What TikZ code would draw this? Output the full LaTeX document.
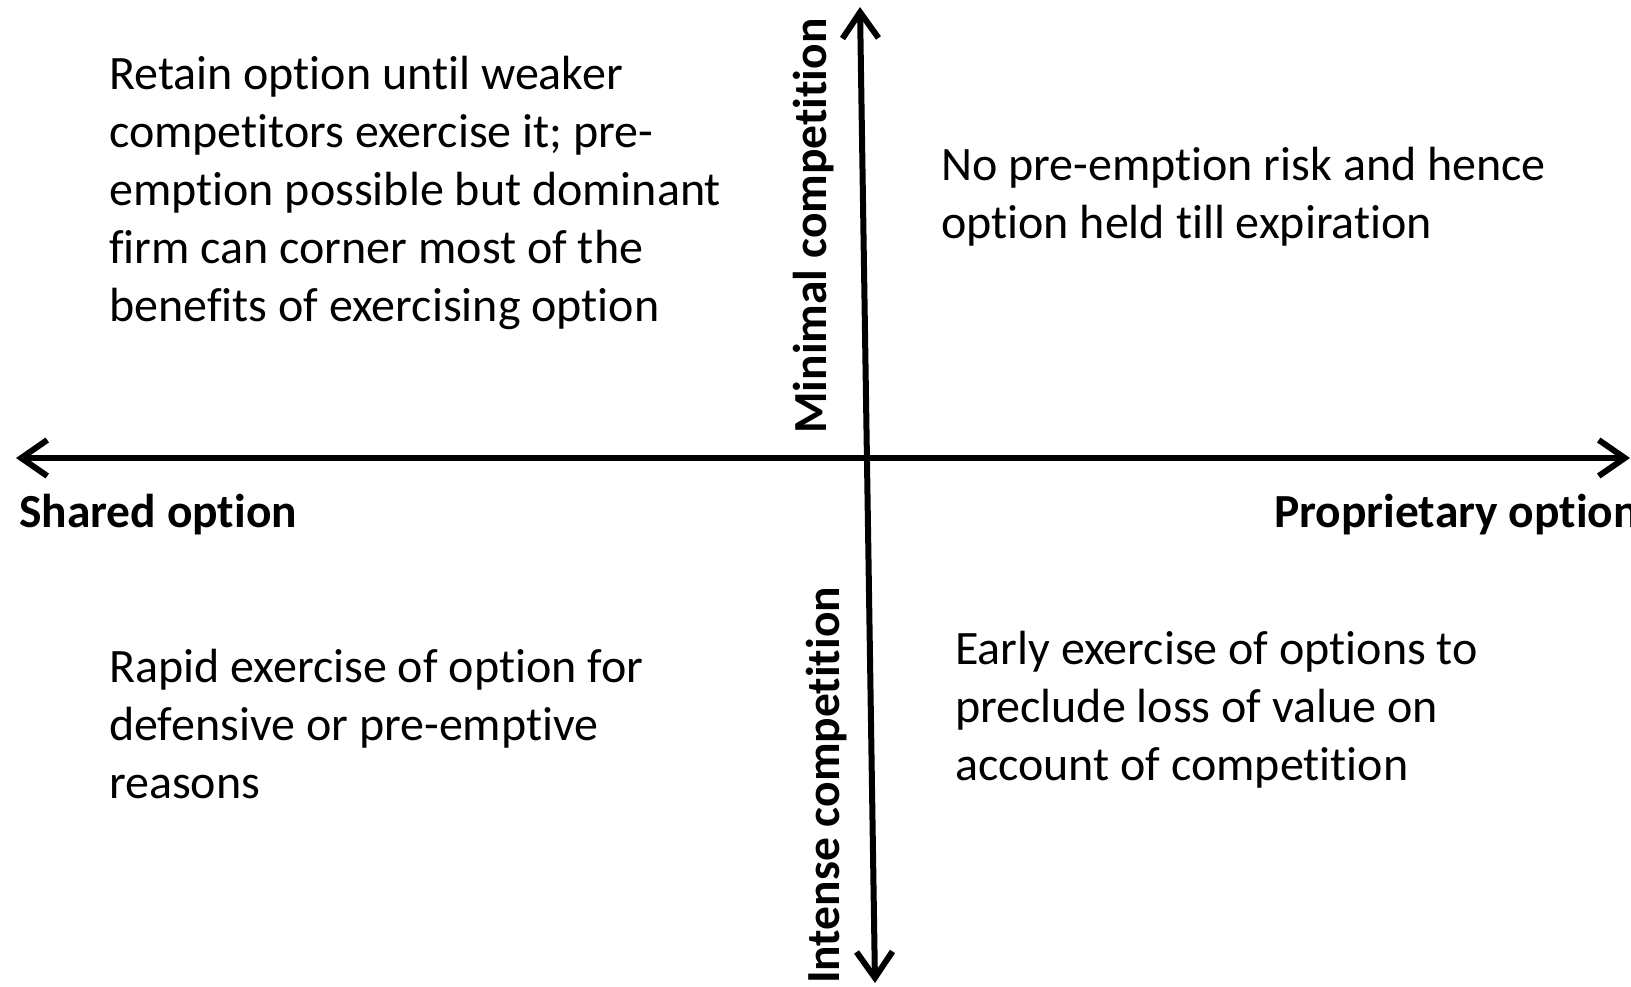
\documentclass[tikz,border=0pt]{standalone}
\usepackage{fontspec}
\setmainfont{Carlito}[Ligatures=NoCommon]
\usetikzlibrary{arrows.meta}
\tikzset{
  barb/.tip={Straight Barb[length=26pt,width=36pt,line width=6pt]},
  axisline/.style={line width=6pt,barb-barb},
  quadtext/.style={anchor=west,align=left,inner sep=0pt,font=\fontsize{48}{58}\selectfont},
  axislabel/.style={inner sep=0pt,font=\fontsize{47.5}{58}\selectfont\bfseries}
}
\begin{document}
\begin{tikzpicture}[x=1pt,y=-1pt]
\useasboundingbox (0,0) rectangle (1631,986);
\clip (0,0) rectangle (1631,986);
% axes
\coordinate (left) at (16,458);
\coordinate (right) at (1630,458);
\coordinate (top) at (860,7);
\coordinate (bottom) at (875,983);
\draw[axisline] (left) -- (right);
\draw[axisline] (bottom) -- (top);
% axis labels
\node[axislabel,anchor=west] (shared) at (19,515) {Shared option};
\node[axislabel,anchor=west] (proprietary) at (1274,515) {Proprietary option};
\node[axislabel,rotate=90] (minimal) at (814,226) {Minimal competition};
\node[axislabel,rotate=90,anchor=west] (intense) at (827,984) {Intense competition};
% quadrants
\node[quadtext] (topleft) at (109,193) {Retain option until weaker\\competitors exercise it; pre-\\emption possible but dominant\\firm can corner most of the\\benefits of exercising option};
\node[quadtext] (topright) at (941,197) {No pre-emption risk and hence\\option held till expiration};
\node[quadtext] (bottomleft) at (109,724) {Rapid exercise of option for\\defensive or pre-emptive\\reasons};
\node[quadtext] (bottomright) at (955,710) {Early exercise of options to\\preclude loss of value on\\account of competition};
\end{tikzpicture}
\end{document}
